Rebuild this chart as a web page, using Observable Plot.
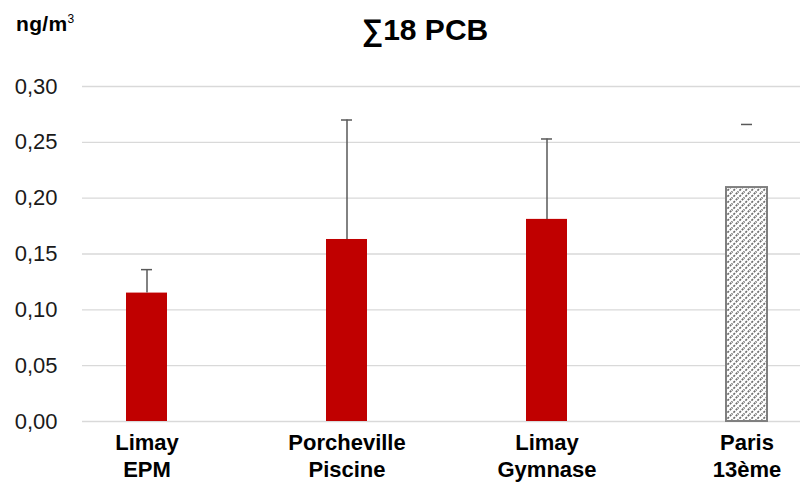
<!DOCTYPE html>
<html>
<head>
<meta charset="utf-8">
<script src="https://cdn.jsdelivr.net/npm/d3@7"></script>
<script src="https://cdn.jsdelivr.net/npm/@observablehq/plot@0.6"></script>
<style>
  html, body { margin: 0; padding: 0; background: #fff; }
  #wrap { position: relative; width: 800px; height: 485px; overflow: hidden; }
  #title { position: absolute; left: 0; width: 850px; top: 13px; text-align: center;
           font: bold 30px "Liberation Sans", sans-serif; color: #000; }
  #unit { position: absolute; left: 16px; top: 12px; letter-spacing: 0.3px;
          font: bold 21px "Liberation Sans", sans-serif; color: #000; }
  #unit sup { font-size: 12px; vertical-align: 8px; font-weight: normal; }
</style>
</head>
<body>
<svg width="0" height="0" style="position:absolute">
  <defs>
    <pattern id="hatch" patternUnits="userSpaceOnUse" width="6" height="6">
      <rect width="6" height="6" fill="#fff"/>
      <path d="M-1,7 L7,-1 M-1,1 L1,-1 M5,7 L7,5" stroke="#6f6f6f" stroke-width="1.7" stroke-dasharray="2.2,1.2"/>
    </pattern>
  </defs>
</svg>
<div id="wrap">
  <div id="chart"></div>
  <div id="title">∑18 PCB</div>
  <div id="unit">ng/m<sup>3</sup></div>
</div>
<script>
const sites = ["Limay\nEPM", "Porcheville\nPiscine", "Limay\nGymnase", "Paris\n13ème"];
const kinds = ["site", "site", "site", "reference"];
const values = [0.115, 0.163, 0.181, 0.2095];
const errTop = [0.136, 0.270, 0.253, 0.266];
const yTicks = [0, 0.05, 0.10, 0.15, 0.20, 0.25, 0.30];

const data = sites.map((s, i) => ({site: s, kind: kinds[i], value: values[i], err: errTop[i]}));
const fmt = v => d3.format(".2f")(v).replace(".", ",");
const font = '"Liberation Sans", sans-serif';

const chart = Plot.plot({
  width: 800,
  height: 485,
  marginLeft: 82,
  marginRight: 0,
  marginTop: 86,
  marginBottom: 64,
  style: {fontFamily: font, background: "#fff"},
  x: {domain: sites, paddingInner: 0.795, paddingOuter: 0.1925, align: 0.565},
  y: {domain: [0, 0.30]},
  marks: [
    Plot.ruleY(yTicks, {stroke: "#d9d9d9", strokeWidth: 1.3}),
    Plot.barY(data.filter(d => d.kind === "site"), {x: "site", y: "value", fill: "#c00000"}),
    Plot.barY(data.filter(d => d.kind === "reference"), {x: "site", y: "value", fill: "url(#hatch)", stroke: "#7f7f7f", strokeWidth: 2}),
    Plot.ruleX(data.filter(d => d.kind === "site"), {x: "site", y1: "value", y2: "err", stroke: "#595959", strokeWidth: 1.5}),
    Plot.tickY(data, {x: "site", y: "err", stroke: "#595959", strokeWidth: 1.5, insetLeft: 15, insetRight: 15}),
    Plot.axisY({ticks: yTicks, tickFormat: fmt, tickSize: 0, tickPadding: 25, fontSize: 22, fill: "#1a1a1a", label: null}),
    Plot.axisX({tickSize: 0, tickPadding: 9, fontSize: 22, fontWeight: "bold", lineHeight: 1.24, label: null})
  ]
});
document.getElementById("chart").appendChild(chart);
</script>
</body>
</html>
